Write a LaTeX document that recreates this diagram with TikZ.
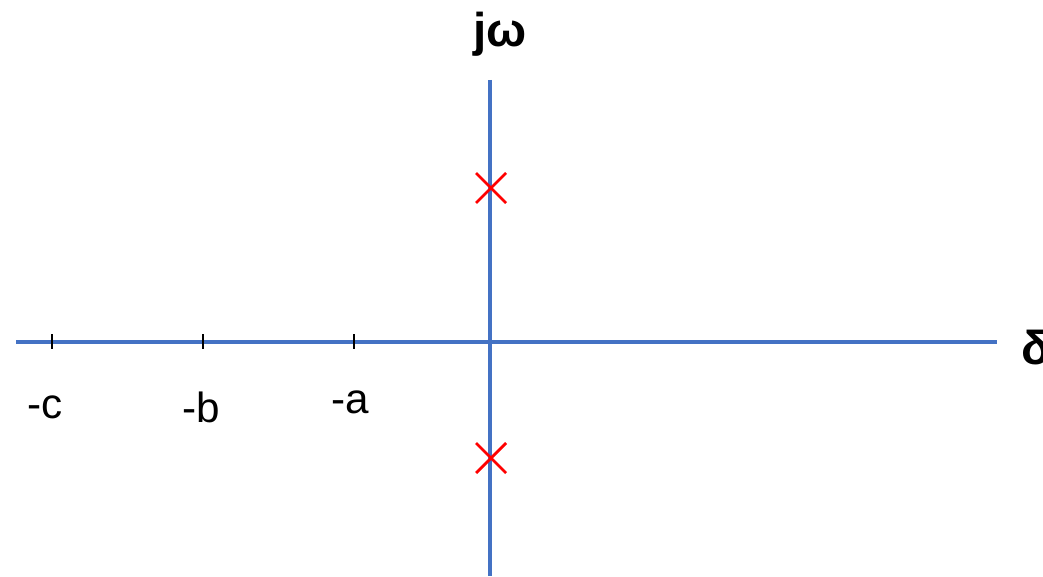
\documentclass[tikz,border=0pt]{standalone}
\usepackage{fontspec}
\setmainfont{Liberation Sans}
\usepackage{tikz}
\usetikzlibrary{positioning, calc}
\definecolor{axisblue}{HTML}{4472C4}
\definecolor{polered}{HTML}{FF0000}

\begin{document}
\begin{tikzpicture}[
    x=0.01cm, y=-0.01cm,
    axis/.style={draw=axisblue, line width=0.9pt},
    tick/.style={draw=black, line width=0.7pt},
    pole/.style={draw=polered, line width=0.8pt},
    lbl/.style={font=\fontsize{12}{13}\selectfont, inner sep=0pt},
    axlbl/.style={font=\fontsize{13.5}{14}\selectfont\bfseries, inner sep=0pt}
]
\useasboundingbox (0,0) rectangle (1043,576);
% Axis ends
\coordinate (xl) at (16,342);
\coordinate (xr) at (997,342);
\coordinate (yt) at (490,80);
\coordinate (yb) at (490,576);
% Axes
\draw[axis] (xl) -- (xr);
\draw[axis] (yt) -- (yb);
% Axis labels
\node[axlbl] (jw) at (500,34) {jω};
\node[axlbl, anchor=west] (sig) at (1021,348) {δ};
% Ticks
\coordinate (tc) at (52,342);
\coordinate (tb) at (203,342);
\coordinate (ta) at (354,342);
\draw[tick] ($(tc)+(0,-8)$) -- ($(tc)+(0,7)$);
\draw[tick] ($(tb)+(0,-8)$) -- ($(tb)+(0,7)$);
\draw[tick] ($(ta)+(0,-8)$) -- ($(ta)+(0,7)$);
% Tick labels
\node[lbl] (lc) at (45,407) {-c};
\node[lbl] (lb) at (201,407) {-b};
\node[lbl] (la) at (350,402) {-a};
% Poles
\coordinate (p1) at (491,188);
\coordinate (p2) at (491,458);
\draw[pole] ($(p1)+(-15,-15)$) -- ($(p1)+(15,15)$);
\draw[pole] ($(p1)+(-15,15)$) -- ($(p1)+(15,-15)$);
\draw[pole] ($(p2)+(-15,-15)$) -- ($(p2)+(15,15)$);
\draw[pole] ($(p2)+(-15,15)$) -- ($(p2)+(15,-15)$);
\end{tikzpicture}
\end{document}
